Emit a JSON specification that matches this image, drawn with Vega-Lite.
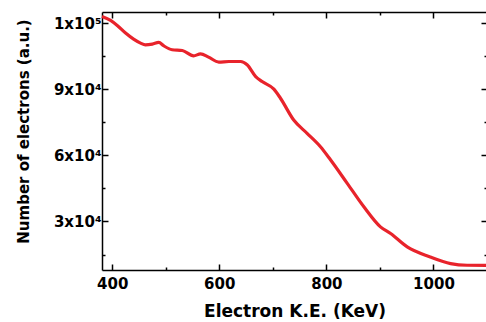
{
  "$schema": "https://vega.github.io/schema/vega-lite/v6.json",
  "width": 385,
  "height": 258,
  "autosize": {"type": "none"},
  "padding": {"left": 102, "top": 12, "right": 0, "bottom": 52},
  "background": "white",
  "config": {
    "view": {"stroke": null},
    "axis": {
      "grid": false,
      "domainColor": "black",
      "domainWidth": 1.5,
      "tickColor": "black",
      "tickWidth": 1.5,
      "labelFont": "DejaVu Sans",
      "labelFontWeight": "bold",
      "labelFontSize": 15,
      "labelColor": "black",
      "titleFont": "DejaVu Sans",
      "titleFontWeight": "bold",
      "titleColor": "black"
    }
  },
  "data": {
    "values": [
      {"ke": 381, "n": 123000},
      {"ke": 397, "n": 121200},
      {"ke": 410, "n": 118800},
      {"ke": 425, "n": 115450},
      {"ke": 440, "n": 112700},
      {"ke": 453, "n": 110900},
      {"ke": 462, "n": 110100},
      {"ke": 475, "n": 110450},
      {"ke": 487, "n": 111200},
      {"ke": 496, "n": 109700},
      {"ke": 512, "n": 107900},
      {"ke": 531, "n": 107550},
      {"ke": 552, "n": 105100},
      {"ke": 565, "n": 106000},
      {"ke": 580, "n": 104550},
      {"ke": 599, "n": 102300},
      {"ke": 618, "n": 102550},
      {"ke": 640, "n": 102550},
      {"ke": 652, "n": 101050},
      {"ke": 668, "n": 95700},
      {"ke": 680, "n": 93450},
      {"ke": 702, "n": 90000},
      {"ke": 714, "n": 86000},
      {"ke": 739, "n": 76000},
      {"ke": 764, "n": 70000},
      {"ke": 789, "n": 63900},
      {"ke": 808, "n": 57870},
      {"ke": 839, "n": 47300},
      {"ke": 870, "n": 36650},
      {"ke": 901, "n": 27550},
      {"ke": 920, "n": 24550},
      {"ke": 951, "n": 18450},
      {"ke": 994, "n": 13900},
      {"ke": 1032, "n": 10900},
      {"ke": 1063, "n": 10150},
      {"ke": 1100, "n": 10100}
    ]
  },
  "resolve": {"axis": {"x": "independent", "y": "independent"}},
  "layer": [
    {
      "mark": {"type": "line", "color": "#e8232b", "strokeWidth": 3.2, "interpolate": "monotone"},
      "encoding": {
        "x": {
          "field": "ke",
          "type": "quantitative",
          "scale": {"domain": [381, 1100], "nice": false, "zero": false},
          "axis": {
            "title": "Electron K.E. (KeV)",
            "titleFontSize": 17,
            "titlePadding": 12,
            "format": "d",
            "values": [400, 500, 600, 700, 800, 900, 1000],
            "labelExpr": "datum.value % 200 === 0 ? datum.label : ''",
            "tickSize": {"condition": {"test": "datum.value % 200 === 0", "value": -6}, "value": -3},
            "labelPadding": 12
          }
        },
        "y": {
          "field": "n",
          "type": "quantitative",
          "scale": {"domain": [8000, 125000], "nice": false, "zero": false},
          "axis": {
            "title": "Number of electrons (a.u.)",
            "titleFontSize": 15,
            "titlePadding": 22,
            "titleY": 119,
            "values": [15000, 30000, 45000, 60000, 75000, 90000, 105000, 120000],
            "labelExpr": "datum.value === 120000 ? '1x10⁵' : datum.value === 90000 ? '9x10⁴' : datum.value === 60000 ? '6x10⁴' : datum.value === 30000 ? '3x10⁴' : ''",
            "tickSize": {"condition": {"test": "datum.value % 30000 === 0", "value": -6}, "value": -3},
            "labelPadding": 7
          }
        }
      }
    },
    {
      "mark": {"type": "line", "opacity": 0},
      "encoding": {
        "x": {
          "field": "ke",
          "type": "quantitative",
          "axis": {
            "orient": "top",
            "title": null,
            "labels": false,
            "values": [400, 500, 600, 700, 800, 900, 1000],
            "tickSize": {"condition": {"test": "datum.value % 200 === 0", "value": -6}, "value": -3}
          }
        },
        "y": {
          "field": "n",
          "type": "quantitative",
          "axis": {
            "orient": "right",
            "title": null,
            "labels": false,
            "values": [15000, 30000, 45000, 60000, 75000, 90000, 105000, 120000],
            "tickSize": {"condition": {"test": "datum.value % 30000 === 0", "value": -6}, "value": -3}
          }
        }
      }
    }
  ]
}
